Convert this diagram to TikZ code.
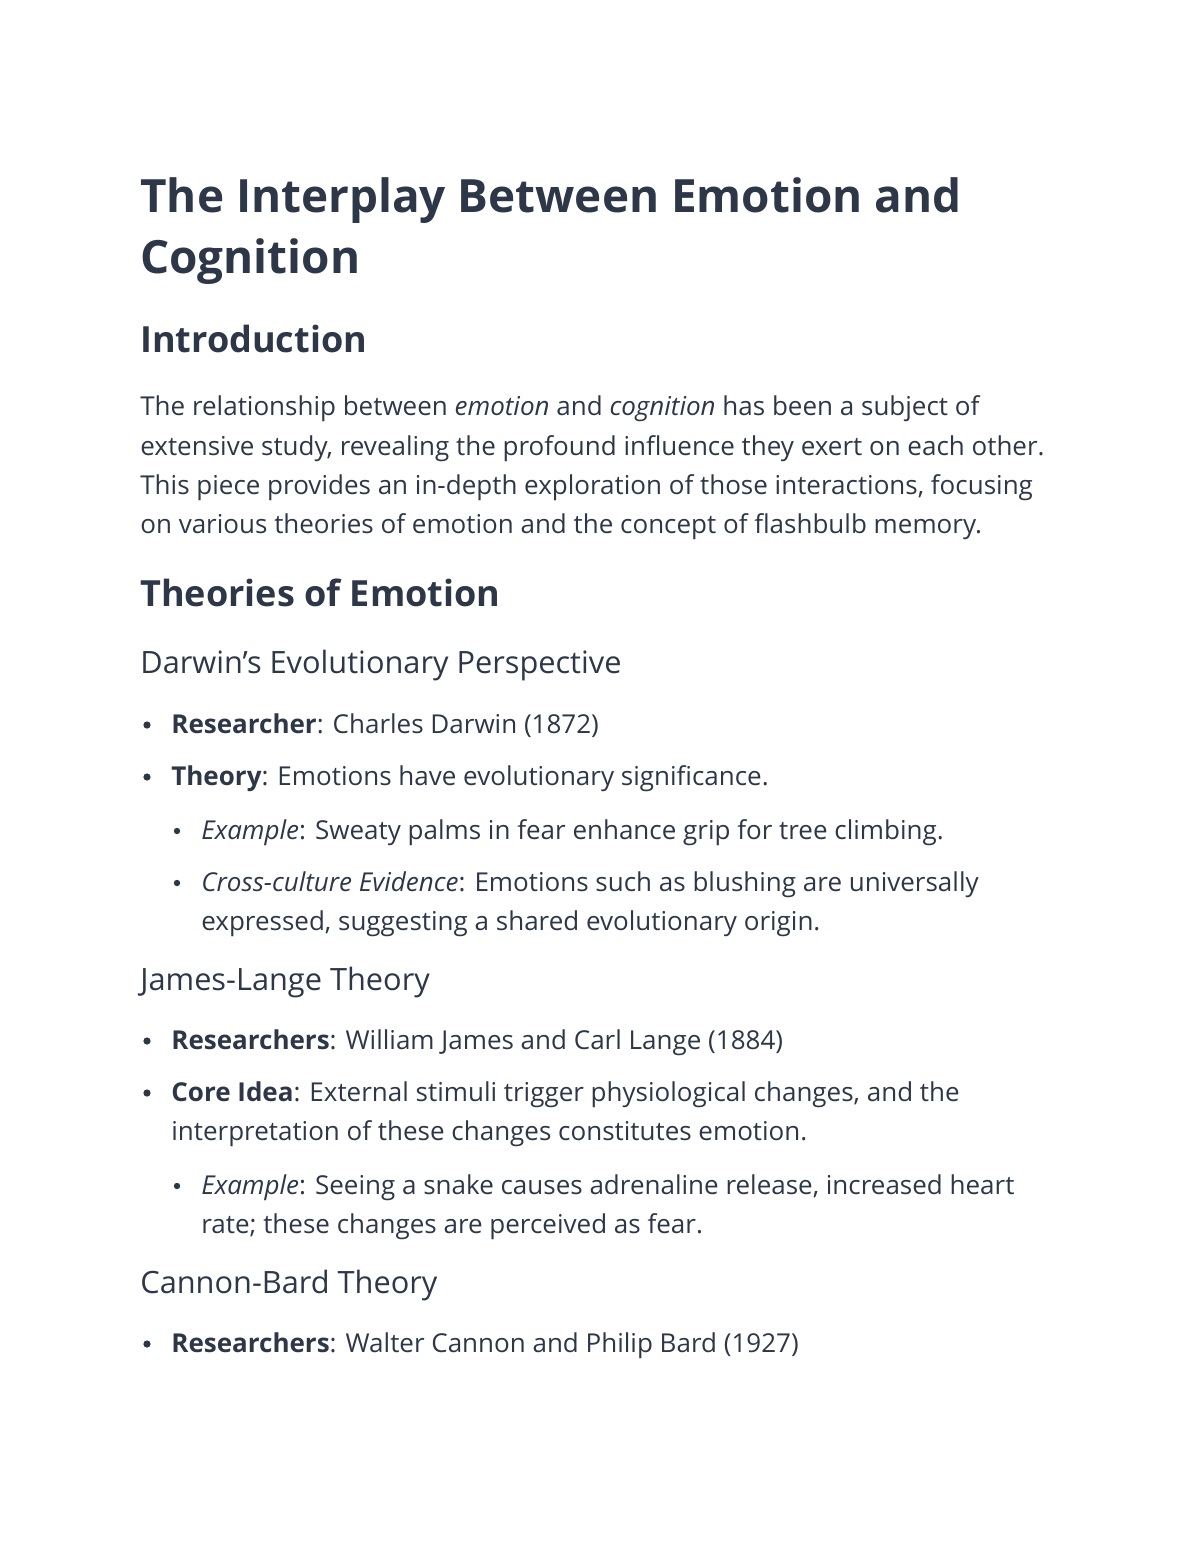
\documentclass[tikz,border=0pt]{standalone}
\usepackage{fontspec}
\setmainfont{Open Sans}
\definecolor{inkc}{RGB}{45,55,72}
\tikzset{
  ln/.style={anchor=base west,inner sep=0pt,text=inkc,font=\fontsize{14.8}{17}\selectfont},
  ttl/.style={ln,font=\fontsize{26.1}{30}\selectfont\bfseries},
  hd/.style={ln,font=\fontsize{20.5}{24}\selectfont\bfseries},
  sub/.style={ln,font=\fontsize{17.5}{21}\selectfont},
  dot/.style={fill=inkc,draw=none}
}
\begin{document}
\begin{tikzpicture}[x=0.02cm,y=-0.02cm]
\useasboundingbox (0,0) rectangle (1200,1553);
\node[ttl] (t1) at (140,212) {The Interplay Between Emotion and};
\node[ttl] (t2) at (140,273) {Cognition};
\node[hd] (intro) at (140,352) {Introduction};
\node[ln] (p1) at (140,415) {The relationship between \textit{emotion} and \textit{cognition} has been a subject of};
\node[ln] (p2) at (140,455) {extensive study, revealing the profound influence they exert on each other.};
\node[ln] (p3) at (140,494) {This piece provides an in-depth exploration of those interactions, focusing};
\node[ln] (p4) at (140,533) {on various theories of emotion and the concept of flashbulb memory.};
\node[hd] (theo) at (140,606) {Theories of Emotion};
\node[sub] (darwin) at (140,673) {Darwin's Evolutionary Perspective};
\node[ln] (d1) at (171,733) {\textbf{Researcher}: Charles Darwin (1872)};
\node[ln] (d2) at (171,785) {\textbf{Theory}: Emotions have evolutionary significance.};
\node[ln] (d3) at (201,839) {\textit{Example}: Sweaty palms in fear enhance grip for tree climbing.};
\node[ln] (d4) at (201,891) {\textit{Cross-culture Evidence}: Emotions such as blushing are universally};
\node[ln] (d5) at (201,930) {expressed, suggesting a shared evolutionary origin.};
\node[sub] (james) at (140,990) {James-Lange Theory};
\node[ln] (j1) at (171,1049) {\textbf{Researchers}: William James and Carl Lange (1884)};
\node[ln] (j2) at (171,1101) {\textbf{Core Idea}: External stimuli trigger physiological changes, and the};
\node[ln] (j3) at (171,1140) {interpretation of these changes constitutes emotion.};
\node[ln] (j4) at (201,1194) {\textit{Example}: Seeing a snake causes adrenaline release, increased heart};
\node[ln] (j5) at (201,1233) {rate; these changes are perceived as fear.};
\node[sub] (cannon) at (140,1293) {Cannon-Bard Theory};
\node[ln] (c1) at (171,1352) {\textbf{Researchers}: Walter Cannon and Philip Bard (1927)};
% bullets
\foreach \y in {733,785,1049,1101,1352} \fill[dot] (147,\y-8) circle (3.6);
\foreach \y in {839,891,1194} \fill[dot] (177,\y-8) circle (3.2);
\end{tikzpicture}
\end{document}
